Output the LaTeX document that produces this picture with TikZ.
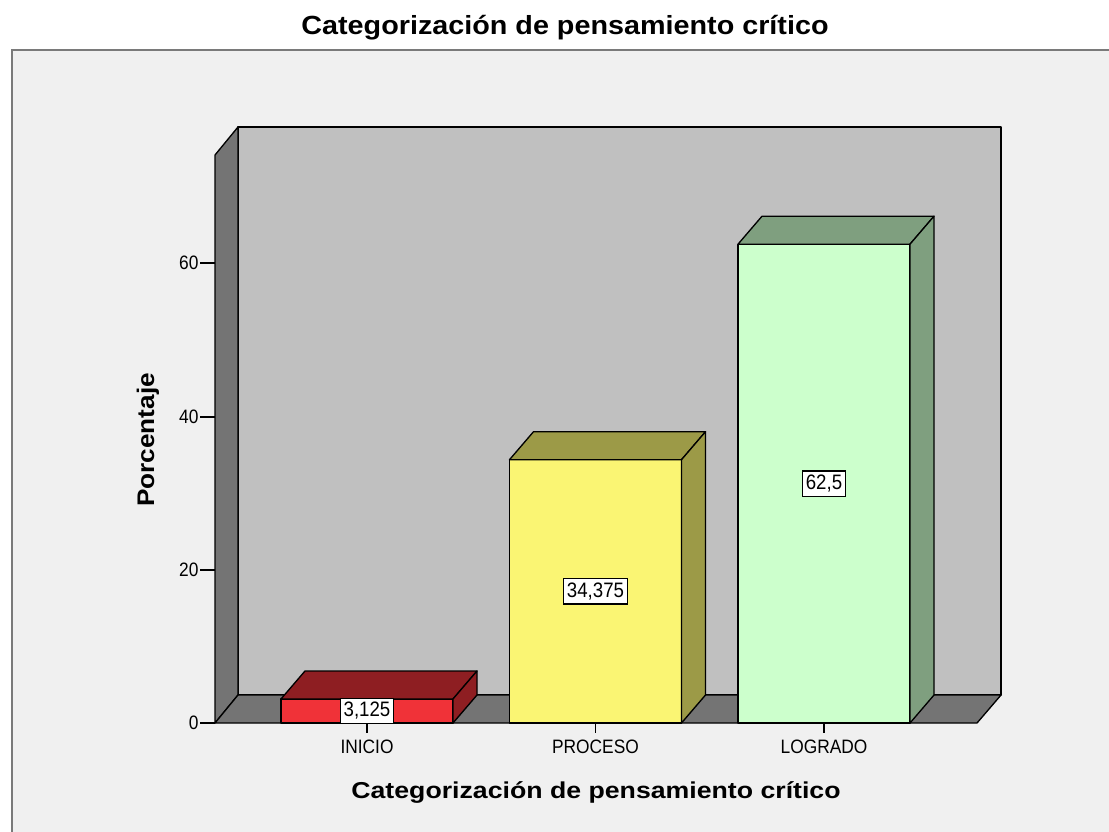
\documentclass[tikz,border=0pt]{standalone}
\usepackage{fontspec}
\setmainfont{Liberation Sans}
\definecolor{bgc}{HTML}{F0F0F0}
\definecolor{framec}{HTML}{7A7A7A}
\definecolor{wallc}{HTML}{C0C0C0}
\definecolor{sidec}{HTML}{747474}
\definecolor{redf}{HTML}{F03238}
\definecolor{redd}{HTML}{8E1E22}
\definecolor{yelf}{HTML}{FAF573}
\definecolor{yeld}{HTML}{9C9A47}
\definecolor{grnf}{HTML}{CCFFCC}
\definecolor{grnd}{HTML}{7F9F7F}
\newcommand\drawbar[4]{%
  \draw[edge, fill=#3] (#1,#2) rectangle ({#1+172},723);
  \draw[edge, fill=#4] (#1,#2) -- ({#1+24},{#2-28}) -- ({#1+196},{#2-28}) -- ({#1+172},#2) -- cycle;
  \draw[edge, fill=#4] ({#1+172},#2) -- ({#1+196},{#2-28}) -- ({#1+196},695) -- ({#1+172},723) -- cycle;
}
\newcommand\tallt[1]{\scalebox{1}[1.12]{#1}}
\begin{document}
\begin{tikzpicture}[x=0.75pt,y=-0.75pt,
  edge/.style={draw=black,line width=1pt,line join=round},
  ticklbl/.style={inner sep=1pt,font=\fontsize{13pt}{15pt}\selectfont},
  valbox/.style={draw=black,line width=0.9pt,fill=white,inner xsep=2.5pt,inner ysep=3pt,font=\fontsize{14pt}{16pt}\selectfont},
  tickline/.style={draw=black,line width=0.9pt}]
\path[use as bounding box] (0,0) rectangle (1109,831);
\clip (0,0) rectangle (1109,831);
\fill[white] (0,0) rectangle (1109,831);
\draw[draw=framec, line width=1.5pt, fill=bgc] (12,50) rectangle (1140,860);
% walls
\draw[edge, fill=wallc] (238,127) rectangle (1001,695);
\draw[edge, fill=sidec] (215,155) -- (238,127) -- (238,695) -- (215,723) -- cycle;
\draw[edge, fill=sidec] (215,723) -- (238,695) -- (1001,695) -- (977,723) -- cycle;
% y axis ticks
\foreach \v/\yy in {0/723,20/570,40/417,60/263}{
  \coordinate (a\v) at (215,\yy);
  \node[ticklbl,anchor=east] (l\v) at (200,\yy) {\tallt{\v}};
  \draw[tickline] (l\v.east) -- (a\v);
}
% category ticks and labels
\coordinate (c1) at (367,723);
\coordinate (c2) at (595.5,723);
\coordinate (c3) at (824,723);
\node[ticklbl] (n1) at (367,747) {\tallt{INICIO}};
\node[ticklbl] (n2) at (595.5,747) {\tallt{PROCESO}};
\node[ticklbl] (n3) at (824,747) {\tallt{LOGRADO}};
\draw[tickline] (c1) -- ++(0,10);
\draw[tickline] (c2) -- ++(0,10);
\draw[tickline] (c3) -- ++(0,10);
% bars
\drawbar{281}{699}{redf}{redd}
\drawbar{509.5}{459.7}{yelf}{yeld}
\drawbar{738}{244.2}{grnf}{grnd}
% value labels
\node[valbox] (v1) at (367,711) {\tallt{3,125}};
\node[valbox] (v2) at (595.5,591.4) {\tallt{34,375}};
\node[valbox] (v3) at (824,483.6) {\tallt{62,5}};
% titles
\node[anchor=base,inner sep=0pt] (title) at (565,35) {\scalebox{1.15}[1.05]{\fontsize{18.75pt}{20pt}\selectfont\bfseries Categorización de pensamiento crítico}};
\node[anchor=base,inner sep=0pt] (xtitle) at (596,798) {\scalebox{1.16}[1]{\fontsize{17.25pt}{19pt}\selectfont\bfseries Categorización de pensamiento crítico}};
\node[rotate=90,inner sep=0pt] (ytitle) at (148,440) {\scalebox{1.09}[1]{\fontsize{18pt}{20pt}\selectfont\bfseries Porcentaje}};
\end{tikzpicture}
\end{document}
